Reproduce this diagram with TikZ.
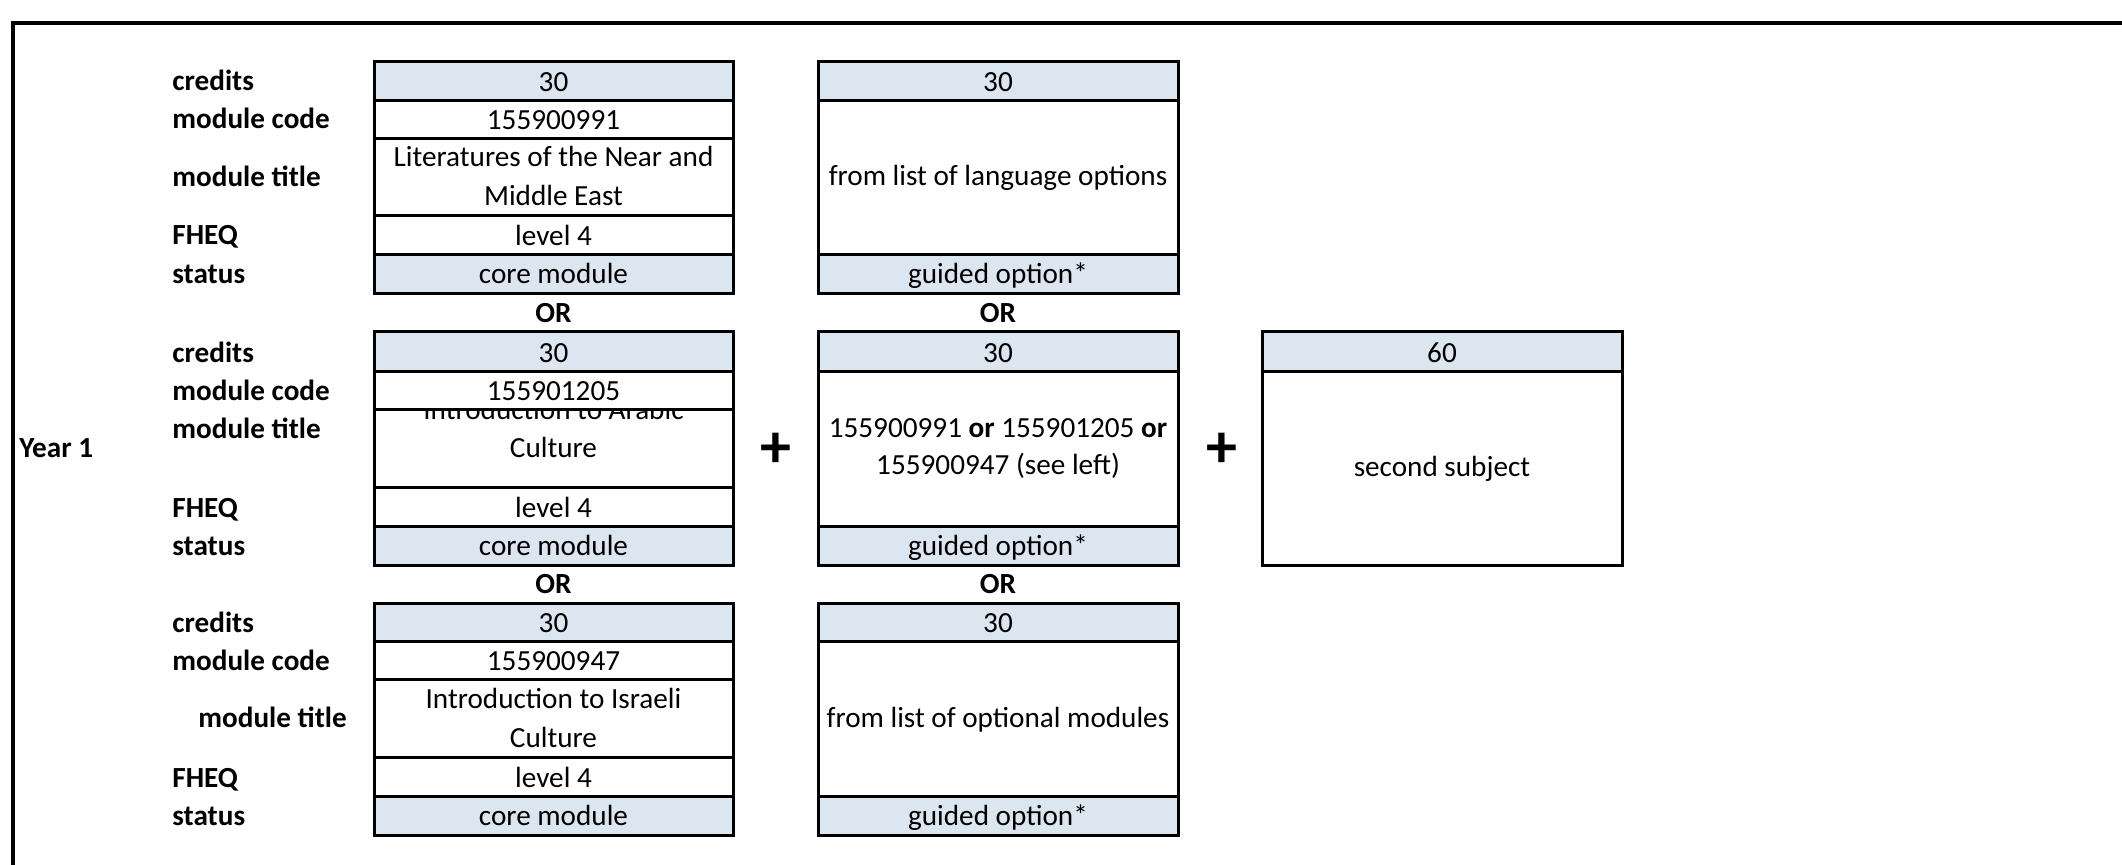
\documentclass[tikz,border=0pt]{standalone}
\usepackage{fontspec}
\setmainfont{Carlito}
\definecolor{hdr}{RGB}{220,230,241}
\begin{document}
\begin{tikzpicture}[x=0.5pt,y=-0.5pt,
  lab/.style={anchor=base west, inner sep=0pt, font=\fontsize{14.6}{19}\selectfont\bfseries},
  txt/.style={anchor=base, inner sep=0pt, font=\fontsize{14.6}{19}\selectfont},
  orlab/.style={anchor=base, inner sep=0pt, font=\fontsize{14.6}{19}\selectfont\bfseries},
  plus/.style={inner sep=0pt, font=\fontsize{31}{31}\selectfont\bfseries},
  grid/.style={line width=1.5pt},
  frame/.style={line width=1.6pt}]
\useasboundingbox (0,0) rectangle (2122,864);
\draw[frame] (13,900) -- (13,23) -- (2160,23);

% fills
\foreach \ya/\yb/\ye/\yf in {61/100/254/293, 331/371/526/565, 603/641/796/835}{
  \fill[hdr] (374,\ya) rectangle (733,\yb);
  \fill[hdr] (374,\ye) rectangle (733,\yf);
  \fill[hdr] (818,\ya) rectangle (1178,\yb);
  \fill[hdr] (818,\ye) rectangle (1178,\yf);
}
\fill[hdr] (1262,331) rectangle (1622,371);

% labels
\node[lab] (y1) at (19,457) {Year 1};
\node[lab] (c1) at (172,90) {credits};
\node[lab] (m1) at (172,128) {module code};
\node[lab] (t1) at (172,186) {module title};
\node[lab] (f1) at (172,244) {FHEQ};
\node[lab] (s1) at (172,283) {status};
\node[lab] (c2) at (172,362) {credits};
\node[lab] (m2) at (172,400) {module code};
\node[lab] (t2) at (172,438) {module title};
\node[lab] (f2) at (172,517) {FHEQ};
\node[lab] (s2) at (172,555) {status};
\node[lab] (c3) at (172,632) {credits};
\node[lab] (m3) at (172,670) {module code};
\node[lab] (t3) at (198,727) {module title};
\node[lab] (f3) at (172,787) {FHEQ};
\node[lab] (s3) at (172,825) {status};

% column A texts
\node[txt] (a1c) at (553.5,91) {30};
\node[txt] (a1m) at (553.5,129) {155900991};
\node[txt] (a1t) at (553.5,166) {Literatures of the Near and};
\node[txt] (a1u) at (553.5,205) {Middle East};
\node[txt] (a1f) at (553.5,245) {level 4};
\node[txt] (a1s) at (553.5,283) {core module};
\node[orlab] (or1) at (553.5,322) {OR};
\node[txt] (a2c) at (553.5,362) {30};
\node[txt] (a2m) at (553.5,400) {155901205};
\begin{scope}
  \clip (374,409) rectangle (733,487);
  \node[txt] (a2t) at (553.5,419) {Introduction to Arabic};
\end{scope}
\node[txt] (a2u) at (553.5,457) {Culture};
\node[txt] (a2f) at (553.5,517) {level 4};
\node[txt] (a2s) at (553.5,555) {core module};
\node[orlab] (or2) at (553.5,593) {OR};
\node[txt] (a3c) at (553.5,632) {30};
\node[txt] (a3m) at (553.5,670) {155900947};
\node[txt] (a3t) at (553.5,708) {Introduction to Israeli};
\node[txt] (a3u) at (553.5,747) {Culture};
\node[txt] (a3f) at (553.5,787) {level 4};
\node[txt] (a3s) at (553.5,825) {core module};

% column B texts
\node[txt] (b1c) at (998,91) {30};
\node[txt] (b1m) at (998,185) {from list of language options};
\node[txt] (b1s) at (998,283) {guided option*};
\node[orlab] (or3) at (998,322) {OR};
\node[txt] (b2c) at (998,362) {30};
\node[txt] (b2m) at (998,437) {155900991 \textbf{or} 155901205 \textbf{or}};
\node[txt] (b2n) at (998,474) {155900947 (see left)};
\node[txt] (b2s) at (998,555) {guided option*};
\node[orlab] (or4) at (998,593) {OR};
\node[txt] (b3c) at (998,632) {30};
\node[txt] (b3m) at (998,727) {from list of optional modules};
\node[txt] (b3s) at (998,825) {guided option*};

% column C
\node[txt] (cc) at (1442,362) {60};
\node[txt] (cm) at (1442,476) {second subject};

% plus signs
\node[plus] (p1) at (776,450) {+};
\node[plus] (p2) at (1222,450) {+};

% grid lines
\foreach \ya/\yb/\yc/\yd/\ye/\yf in {61/100/138/215/254/293, 331/371/409/487/526/565, 603/641/679/757/796/835}{
  \draw[grid] (374,\ya) rectangle (733,\yf);
  \foreach \y in {\yb,\yc,\yd,\ye} \draw[grid] (374,\y) -- (733,\y);
  \draw[grid] (818,\ya) rectangle (1178,\yf);
  \draw[grid] (818,\yb) -- (1178,\yb) (818,\ye) -- (1178,\ye);
}
\draw[grid] (1262,331) rectangle (1622,565);
\draw[grid] (1262,371) -- (1622,371);
\end{tikzpicture}
\end{document}
